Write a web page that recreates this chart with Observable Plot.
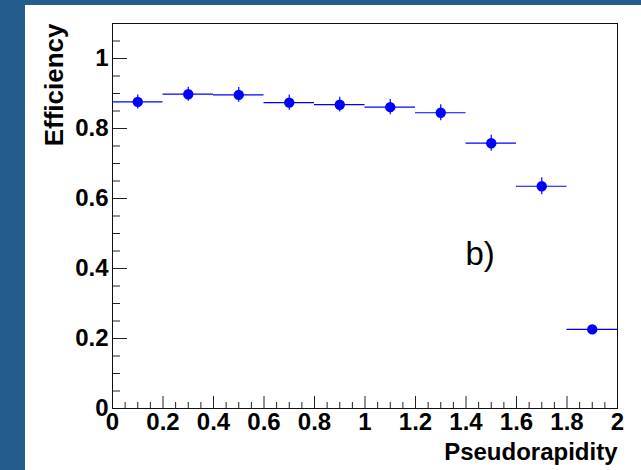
<!DOCTYPE html>
<html>
<head>
<meta charset="utf-8">
<script src="https://cdn.jsdelivr.net/npm/d3@7"></script>
<script src="https://cdn.jsdelivr.net/npm/@observablehq/plot@0.6"></script>
<style>
  html, body { margin: 0; padding: 0; background: #245c8e; }
  #wrap { width: 641px; height: 470px; box-sizing: border-box; padding: 5px 0 0 25px; background: #245c8e; overflow: hidden; }
  #chart { width: 616px; height: 465px; background: #fff; }
  svg { display: block; }
</style>
</head>
<body>
<div id="wrap"><div id="chart"></div></div>
<script>
// Bin centres (pseudorapidity), efficiencies and their uncertainties
const etaCenter  = [0.1, 0.3, 0.5, 0.7, 0.9, 1.1, 1.3, 1.5, 1.7, 1.9];
const etaLow     = [0.0, 0.2, 0.4, 0.6, 0.8, 1.0, 1.2, 1.4, 1.6, 1.8];
const etaHigh    = [0.2, 0.4, 0.6, 0.8, 1.0, 1.2, 1.4, 1.6, 1.8, 2.0];
const efficiency = [0.876, 0.898, 0.896, 0.874, 0.868, 0.861, 0.845, 0.758, 0.635, 0.226];
const effError   = [0.020, 0.020, 0.021, 0.022, 0.021, 0.022, 0.023, 0.023, 0.024, 0.012];

// Axis tick labels
const xTickValues = [0, 0.2, 0.4, 0.6, 0.8, 1, 1.2, 1.4, 1.6, 1.8, 2];
const xTickLabels = ["0", "0.2", "0.4", "0.6", "0.8", "1", "1.2", "1.4", "1.6", "1.8", "2"];
const yTickValues = [0, 0.2, 0.4, 0.6, 0.8, 1];
const yTickLabels = ["0", "0.2", "0.4", "0.6", "0.8", "1"];
const xTitle = "Pseudorapidity";
const yTitle = "Efficiency";
const panelTag = "b)";

const data = etaCenter.map((eta, i) => ({
  eta, lo: etaLow[i], hi: etaHigh[i], eff: efficiency[i], err: effError[i]
}));

const W = 616, H = 465;
const mL = 87, mR = 24, mT = 18, mB = 62;
const pw = W - mL - mR, ph = H - mT - mB;

const xMinor = d3.range(0, 40 + 1).map(i => i * 0.05).filter((v, i) => i % 4 !== 0);
const yMinor = d3.range(0, 22 + 1).map(i => i * 0.05).filter((v, i) => i % 4 !== 0);

const font = "'Liberation Sans', Arial, Helvetica, sans-serif";
const blue = "#0000ff";

const chart = Plot.plot({
  width: W, height: H,
  marginLeft: mL, marginRight: mR, marginTop: mT, marginBottom: mB,
  style: { background: "#fff", color: "#000", fontFamily: font, overflow: "visible" },
  x: { domain: [0, 2] },
  y: { domain: [0, 1.1] },
  marks: [
    // inward ticks (ROOT style)
    Plot.tickY(yTickValues, { y: d => d, stroke: "#222", insetRight: pw - 15 }),
    Plot.tickY(yMinor, { y: d => d, stroke: "#222", insetRight: pw - 8 }),
    Plot.tickX(xTickValues, { x: d => d, stroke: "#222", insetTop: ph - 12 }),
    Plot.tickX(xMinor, { x: d => d, stroke: "#222", insetTop: ph - 6 }),
    Plot.frame({ stroke: "#111" }),
    Plot.axisY({
      ticks: yTickValues, tickSize: 0, tickPadding: 4, label: null,
      tickFormat: (d, i) => yTickLabels[yTickValues.indexOf(d)],
      fontSize: 24, fontWeight: "bold"
    }),
    Plot.axisX({
      ticks: xTickValues, tickSize: 0, tickPadding: 4, label: null,
      tickFormat: (d, i) => xTickLabels[xTickValues.indexOf(d)],
      fontSize: 24, fontWeight: "bold"
    }),
    // horizontal bin widths
    Plot.ruleY(data, { y: "eff", x1: "lo", x2: "hi", stroke: blue, strokeWidth: 1.2 }),
    // vertical error bars
    Plot.ruleX(data, { x: "eta", y1: d => d.eff - d.err, y2: d => d.eff + d.err, stroke: blue, strokeWidth: 1.2 }),
    Plot.dot(data, { x: "eta", y: "eff", r: 5.2, fill: blue, stroke: "none" }),
    // titles
    Plot.text([xTitle], {
      frameAnchor: "bottom-right", textAnchor: "end", lineAnchor: "middle",
      dy: 44, fontSize: 24, fontWeight: "bold", fill: "#000"
    }),
    Plot.text([yTitle], {
      frameAnchor: "top-left", textAnchor: "end", lineAnchor: "middle", rotate: -90,
      dx: -58, fontSize: 26, fontWeight: "bold", fill: "#000"
    }),
    Plot.text([panelTag], {
      frameAnchor: "top-left", textAnchor: "start", lineAnchor: "middle",
      dx: 353, dy: 231, fontSize: 33, fill: "#000"
    })
  ]
});

document.getElementById("chart").appendChild(chart);
</script>
</body>
</html>
